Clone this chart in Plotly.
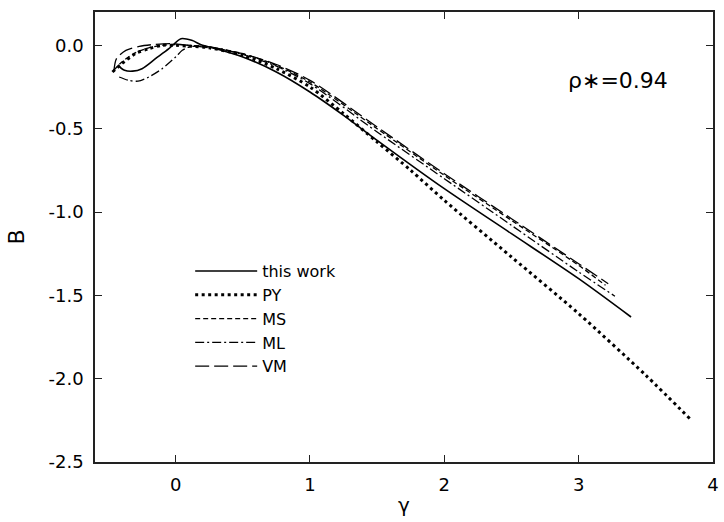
import plotly.graph_objects as go

# ---- data ----
gamma_tw = [-0.43, -0.38, -0.32, -0.25, -0.15, -0.05, 0.04, 0.12, 0.2, 0.3, 0.5, 0.75, 1.0, 1.25, 1.5, 2.0, 2.5, 3.0, 3.39]
B_tw = [-0.12, -0.15, -0.155, -0.14, -0.08, -0.02, 0.04, 0.03, 0.0, -0.02, -0.07, -0.16, -0.28, -0.42, -0.57, -0.86, -1.13, -1.40, -1.63]

gamma_py = [-0.47, -0.4, -0.3, -0.2, -0.1, 0.0, 0.1, 0.25, 0.5, 0.75, 1.0, 1.25, 1.5, 1.75, 2.0, 2.5, 3.0, 3.5, 3.84]
B_py = [-0.16, -0.11, -0.05, -0.02, 0.0, 0.0, -0.005, -0.015, -0.06, -0.14, -0.25, -0.41, -0.58, -0.75, -0.93, -1.27, -1.61, -1.98, -2.25]

gamma_ms = [-0.46, -0.4, -0.3, -0.2, -0.1, 0.0, 0.1, 0.25, 0.5, 0.75, 1.0, 1.5, 2.0, 2.5, 3.0, 3.2]
B_ms = [-0.15, -0.10, -0.045, -0.015, 0.0, 0.005, 0.0, -0.01, -0.05, -0.12, -0.22, -0.50, -0.78, -1.05, -1.32, -1.44]

gamma_ml = [-0.42, -0.35, -0.28, -0.2, -0.1, 0.0, 0.05, 0.1, 0.2, 0.3, 0.5, 0.75, 1.0, 1.5, 2.0, 2.5, 3.0, 3.27]
B_ml = [-0.19, -0.21, -0.215, -0.19, -0.14, -0.07, -0.03, -0.01, -0.005, -0.015, -0.055, -0.125, -0.23, -0.52, -0.80, -1.08, -1.36, -1.505]

gamma_vm = [-0.46, -0.44, -0.37, -0.27, -0.15, -0.03, 0.15, 0.3, 0.5, 0.75, 1.0, 1.5, 2.0, 2.5, 3.0, 3.22]
B_vm = [-0.16, -0.08, -0.03, -0.006, 0.006, 0.01, -0.005, -0.02, -0.05, -0.115, -0.21, -0.49, -0.77, -1.04, -1.31, -1.43]

x_ticks = [0, 1, 2, 3, 4]
y_ticks = [0.0, -0.5, -1.0, -1.5, -2.0, -2.5]
y_tick_text = ["0.0", "-0.5", "-1.0", "-1.5", "-2.0", "-2.5"]

series = [
    ("this work", gamma_tw, B_tw, "solid", 1.6),
    ("PY", gamma_py, B_py, "3px,3.5px", 3.0),
    ("MS", gamma_ms, B_ms, "5px,3px", 1.3),
    ("ML", gamma_ml, B_ml, "9px,3px,2px,3px", 1.3),
    ("VM", gamma_vm, B_vm, "14px,5px", 1.3),
]

FONT = "DejaVu Sans, Liberation Sans, Arial, sans-serif"

fig = go.Figure()
for name, gx, by, dash, w in series:
    fig.add_trace(go.Scatter(
        x=gx, y=by, name=name, mode="lines",
        line=dict(color="black", width=w, dash=dash, shape="spline", smoothing=0.8),
    ))

fig.add_annotation(x=3.29, y=-0.21, text="ρ∗=0.94", showarrow=False,
                   font=dict(family=FONT, size=22, color="black"))

fig.update_layout(
    width=724, height=522,
    margin=dict(l=95, r=5, t=12, b=60),
    paper_bgcolor="white", plot_bgcolor="white",
    font=dict(family=FONT, size=18, color="black"),
    showlegend=True,
    legend=dict(x=0.154, y=0.462, xanchor="left", yanchor="top",
                bgcolor="rgba(0,0,0,0)", itemwidth=62,
                font=dict(family=FONT, size=16, color="black"),
                tracegroupgap=0, itemclick=False),
)
fig.update_xaxes(
    range=[-0.6, 4], tickvals=x_ticks, ticktext=[str(v) for v in x_ticks],
    ticks="inside", ticklen=7, tickwidth=1.3, tickcolor="#222",
    showline=True, linecolor="#222", linewidth=1.5, mirror="ticks",
    showgrid=False, zeroline=False, ticklabelstandoff=6,
    title=dict(text="γ", font=dict(family=FONT, size=20), standoff=4),
)
fig.update_yaxes(
    range=[-2.5, 0.2], tickvals=y_ticks, ticktext=y_tick_text,
    ticks="inside", ticklen=7, tickwidth=1.3, tickcolor="#222",
    showline=True, linecolor="#222", linewidth=1.5, mirror="ticks",
    showgrid=False, zeroline=False, ticklabelstandoff=6,
    title=dict(text="B", font=dict(family=FONT, size=22), standoff=18),
)

fig.write_html("out.html")
